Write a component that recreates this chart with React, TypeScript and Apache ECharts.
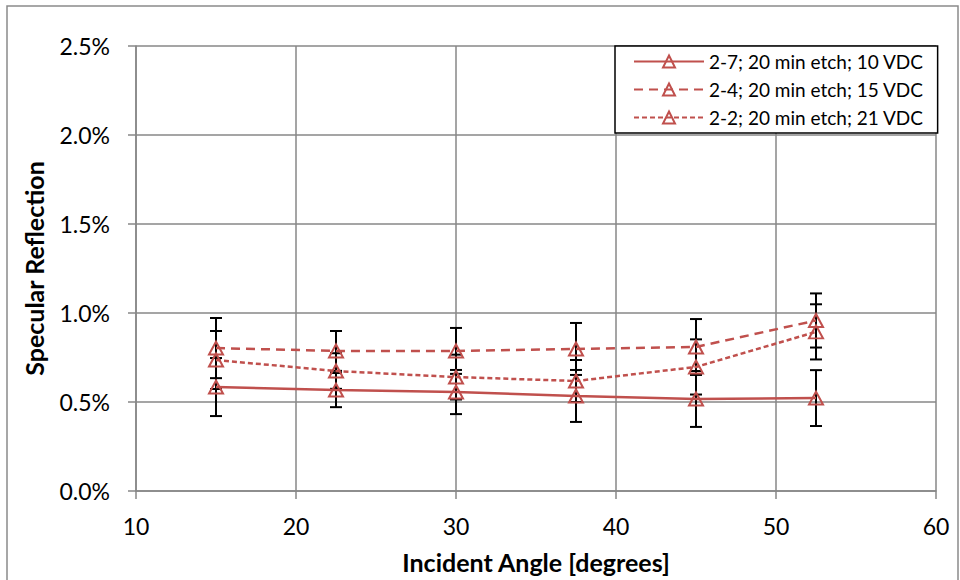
import React, { useEffect, useRef } from "react";
import * as echarts from "echarts";

const angles = [15, 22.5, 30, 37.5, 45, 52.5];
const seriesNames = [
  "2-7; 20 min etch; 10 VDC",
  "2-4; 20 min etch; 15 VDC",
  "2-2; 20 min etch; 21 VDC",
];
const vals27 = [0.584, 0.567, 0.556, 0.534, 0.517, 0.522];
const err27 = [0.163, 0.096, 0.124, 0.146, 0.157, 0.157];
const vals24 = [0.803, 0.787, 0.787, 0.798, 0.809, 0.958];
const err24 = [0.169, 0.112, 0.129, 0.146, 0.157, 0.152];
const vals22 = [0.736, 0.674, 0.64, 0.618, 0.697, 0.894];
const err22 = [0.163, 0.1, 0.126, 0.118, 0.155, 0.155];
const xTicks = [10, 20, 30, 40, 50, 60];
const yTicks = [0, 0.5, 1.0, 1.5, 2.0, 2.5];

const RED = "#C0504D";
const GRID = "#878787";
const FONT = "Lato, 'Open Sans', sans-serif";

export default function App() {
  const ref = useRef<HTMLDivElement>(null);
  useEffect(() => {
    if (!ref.current) return;
    const chart = echarts.init(ref.current, undefined, { renderer: "svg" });
    const all = [
      { name: seriesNames[0], v: vals27, e: err27, dash: "solid" as any },
      { name: seriesNames[1], v: vals24, e: err24, dash: [9, 6] },
      { name: seriesNames[2], v: vals22, e: err22, dash: [5, 3] },
    ];
    const errSeries = all.map((s) => ({
      type: "custom",
      name: s.name + " err",
      z: 1,
      encode: { x: 0, y: [1, 2] },
      data: angles.map((x, i) => [x, s.v[i] - s.e[i], s.v[i] + s.e[i]]),
      renderItem: (params: any, api: any) => {
        const x = api.value(0);
        const lo = api.coord([x, api.value(1)]);
        const hi = api.coord([x, api.value(2)]);
        const w = 6;
        const st = { stroke: "#000", lineWidth: 2 };
        return {
          type: "group",
          children: [
            { type: "line", shape: { x1: lo[0], y1: lo[1], x2: hi[0], y2: hi[1] }, style: st },
            { type: "line", shape: { x1: lo[0] - w, y1: lo[1], x2: lo[0] + w, y2: lo[1] }, style: st },
            { type: "line", shape: { x1: hi[0] - w, y1: hi[1], x2: hi[0] + w, y2: hi[1] }, style: st },
          ],
        };
      },
    }));
    const lineSeries = all.map((s) => ({
      type: "line",
      name: s.name,
      z: 3,
      data: angles.map((x, i) => [x, s.v[i]]),
      symbol: "triangle",
      symbolSize: [14, 13],
      showAllSymbol: true,
      color: RED,
      lineStyle: { color: RED, width: 2.5, type: s.dash },
      itemStyle: { color: "rgba(255,255,255,0)", borderColor: RED, borderWidth: 2 },
    }));
    chart.setOption({
      animation: false,
      textStyle: { fontFamily: FONT },
      graphic: [
        {
          type: "rect",
          shape: { x: 7, y: 6, width: 951, height: 620 },
          style: { fill: "none", stroke: "#8a8a8a", lineWidth: 1.5 },
          silent: true,
        },
      ],
      grid: { left: 136, right: 24, top: 46, bottom: 89, containLabel: false },
      legend: {
        data: seriesNames,
        orient: "vertical",
        left: 615,
        top: 46,
        padding: [6, 14, 6, 18],
        itemGap: 9,
        itemWidth: 70,
        itemHeight: 15,
        backgroundColor: "#fff",
        borderColor: "#000",
        borderWidth: 1.5,
        borderRadius: 0,
        textStyle: { fontSize: 19, color: "#000", fontFamily: FONT },
      },
      xAxis: {
        type: "value",
        min: xTicks[0],
        max: xTicks[xTicks.length - 1],
        interval: 10,
        name: "Incident Angle [degrees]",
        nameLocation: "middle",
        nameGap: 58,
        nameTextStyle: { fontSize: 25, fontWeight: "bold", color: "#000", fontFamily: FONT },
        axisLine: { show: true, lineStyle: { color: GRID, width: 1.5 } },
        axisTick: { show: true, length: 8, inside: false, lineStyle: { color: GRID, width: 1.5 } },
        axisLabel: { fontSize: 23, color: "#000", margin: 23, fontFamily: FONT },
        splitLine: { show: true, lineStyle: { color: GRID, width: 1.5 } },
      },
      yAxis: {
        type: "value",
        min: yTicks[0],
        max: yTicks[yTicks.length - 1],
        interval: 0.5,
        name: "Specular Reflection",
        nameLocation: "middle",
        nameGap: 90,
        nameTextStyle: { fontSize: 25, fontWeight: "bold", color: "#000", fontFamily: FONT },
        axisLine: { show: true, lineStyle: { color: GRID, width: 1.5 } },
        axisTick: { show: true, length: 8, inside: false, lineStyle: { color: GRID, width: 1.5 } },
        axisLabel: {
          fontSize: 23,
          color: "#000",
          margin: 26,
          fontFamily: FONT,
          formatter: (v: number) => v.toFixed(1) + "%",
        },
        splitLine: { show: true, lineStyle: { color: GRID, width: 1.5 } },
      },
      series: [...errSeries, ...lineSeries],
    });
    return () => chart.dispose();
  }, []);
  return (
    <div
      ref={ref}
      style={{ position: "fixed", left: 0, top: 0, width: 960, height: 580, background: "#fff" }}
    />
  );
}
